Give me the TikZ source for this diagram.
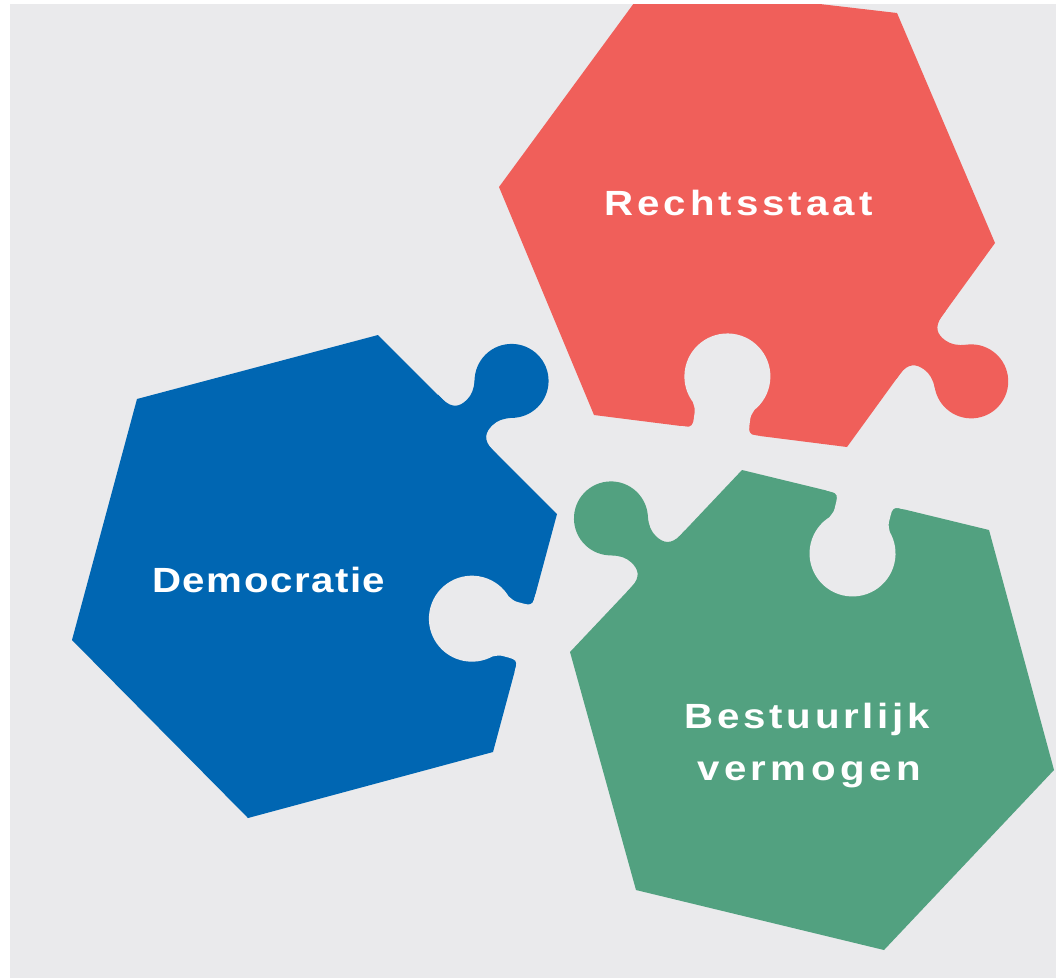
\documentclass[tikz,border=0pt]{standalone}
\usepackage{fontspec}
\setmainfont{Liberation Sans}
\definecolor{bgc}{RGB}{234,234,236}
\definecolor{redc}{RGB}{240,95,90}
\definecolor{bluec}{RGB}{0,102,178}
\definecolor{greenc}{RGB}{82,161,128}
\newcommand{\lblfont}[1]{\bfseries\fontsize{35}{42}\selectfont\addfontfeature{FakeStretch=1.15,LetterSpace=#1}}
\tikzset{
  lbl/.style={text=white, anchor=base west, inner sep=0pt},
}
\newcommand{\knobshape}{%
  \fill (0,-62) circle[radius=37];
  \fill (-42,6) -- (-42,0) -- (-36,0) .. controls (-22,0) and (-18,-7) .. (-18,-17)
    .. controls (-18,-24) and (-21,-30) .. (-26.5,-36.2) -- (0,-55) -- (26.5,-36.2)
    .. controls (21,-30) and (18,-24) .. (18,-17) .. controls (18,-7) and (22,0) .. (36,0)
    -- (42,0) -- (42,6) -- cycle;}
\newcommand{\holeshape}{%
  \fill (0,55) circle[radius=43];
  \fill (-40,-4) -- (-40,0) -- (-35,0) .. controls (-29,0) and (-28,3) .. (-28,9)
    -- (-28,16) .. controls (-28,20) and (-30,22) .. (-31,25.2) -- (0,40) -- (31,25.2)
    .. controls (30,22) and (28,20) .. (28,16) -- (28,9) .. controls (28,3) and (29,0) .. (35,0)
    -- (40,0) -- (40,-4) -- cycle;}
\begin{document}
\begin{tikzpicture}[x=1pt,y=-1pt]
\useasboundingbox (0,0) rectangle (1056,978);
\fill[white] (0,0) rectangle (1056,978);
\fill[bgc] (10,4) rectangle (1056,978);
\begin{scope}
\clip (10,4) rectangle (1056,978);
% red piece
\fill[redc] (648,-16) -- (897,13) -- (995,243) -- (847,447) -- (594,415) -- (499,187) -- cycle;
\begin{scope}[redc, shift={(921,345)}, rotate=-125.9]\knobshape\end{scope}
\begin{scope}[bgc, shift={(720.5,431)}, rotate=172.8]\holeshape\end{scope}
% blue piece
\fill[bluec] (378,335) -- (137,399) -- (72,640) -- (248,818) -- (493,752) -- (557,514) -- cycle;
\begin{scope}[bluec, shift={(467.5,424.5)}, rotate=-45.3]\knobshape\end{scope}
\begin{scope}[bgc, shift={(525,633)}, rotate=-105.1]\holeshape\end{scope}
% green piece
\fill[greenc] (742,470) -- (989,530) -- (1054,770) -- (884,950) -- (636,890) -- (570,652) -- cycle;
\begin{scope}[greenc, shift={(656,561)}, rotate=46.6]\knobshape\end{scope}
\begin{scope}[bgc, shift={(865.5,500)}, rotate=-13.65]\holeshape\end{scope}
\end{scope}
\node[lbl, font=\lblfont{11.5}] (rs) at (604,215) {Rechtsstaat};
\node[lbl, font=\lblfont{4.4}] (dem) at (152,592) {Democratie};
\node[lbl, font=\lblfont{10.9}] (bv1) at (684,728) {Bestuurlijk};
\node[lbl, font=\lblfont{12.7}] (bv2) at (697,780) {vermogen};
\end{tikzpicture}
\end{document}
